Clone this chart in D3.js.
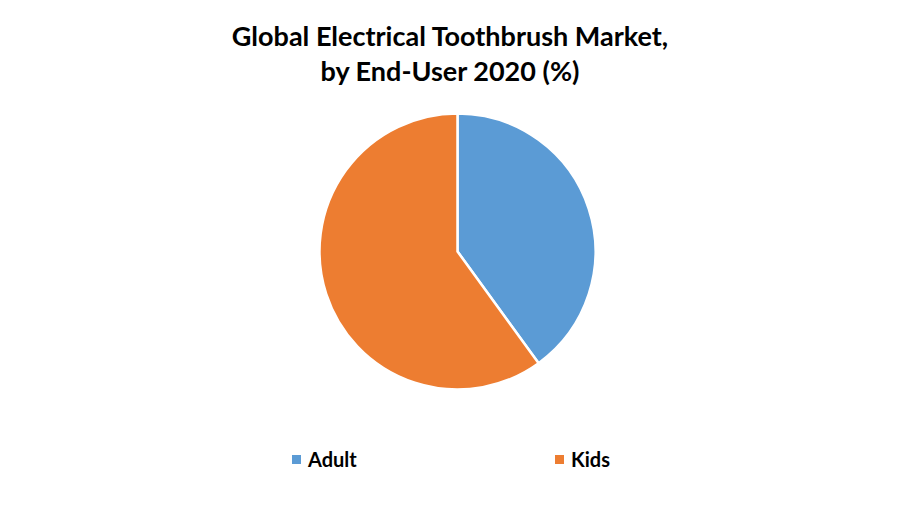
<!DOCTYPE html>
<html>
<head>
<meta charset="utf-8">
<script src="https://cdn.jsdelivr.net/npm/d3@7"></script>
<style>
  body { margin: 0; background: #fff; }
  text { font-family: Lato, "Open Sans", sans-serif; }
</style>
</head>
<body>
<div id="chart"></div>
<script>
const categories = ["Adult", "Kids"];
const shares = [40, 60];
const colors = ["#5b9bd5", "#ed7d31"];
const titleLines = ["Global Electrical Toothbrush Market,", "by End-User 2020 (%)"];

const chartWidth = 900;
const chartHeight = 525;
const center = { x: 457.5, y: 251.5 };
const radius = 138;

const svg = d3
  .select("#chart")
  .append("svg")
  .attr("width", chartWidth)
  .attr("height", chartHeight);

// title
svg
  .append("g")
  .selectAll("text")
  .data(titleLines)
  .enter()
  .append("text")
  .attr("x", 450)
  .attr("y", (d, i) => 46 + i * 35)
  .attr("text-anchor", "middle")
  .style("font-size", "27px")
  .style("font-weight", "bold")
  .style("fill", "#000")
  .text((d) => d);

// pie
const data = categories.map((c, i) => ({ name: c, value: shares[i] }));
const pie = d3.pie().sort(null).value((d) => d.value);
const arc = d3.arc().innerRadius(0).outerRadius(radius);
const color = d3.scaleOrdinal().domain(categories).range(colors);

svg
  .append("g")
  .attr("transform", `translate(${center.x}, ${center.y})`)
  .selectAll("path")
  .data(pie(data))
  .enter()
  .append("path")
  .attr("d", arc)
  .attr("fill", (d) => color(d.data.name))
  .attr("stroke", "#fff")
  .attr("stroke-width", 2.5)
  .attr("stroke-linejoin", "round");

// legend
const legendX = d3.scalePoint().domain(categories).range([292, 555]);
const legend = svg
  .append("g")
  .selectAll("g")
  .data(categories)
  .enter()
  .append("g")
  .attr("transform", (d) => `translate(${legendX(d)}, 455)`);

legend
  .append("rect")
  .attr("width", 9)
  .attr("height", 9)
  .attr("fill", (d) => color(d));

legend
  .append("text")
  .attr("x", 16)
  .attr("y", 12)
  .style("font-size", "20px")
  .style("font-weight", "bold")
  .style("fill", "#000")
  .text((d) => d);
</script>
</body>
</html>
